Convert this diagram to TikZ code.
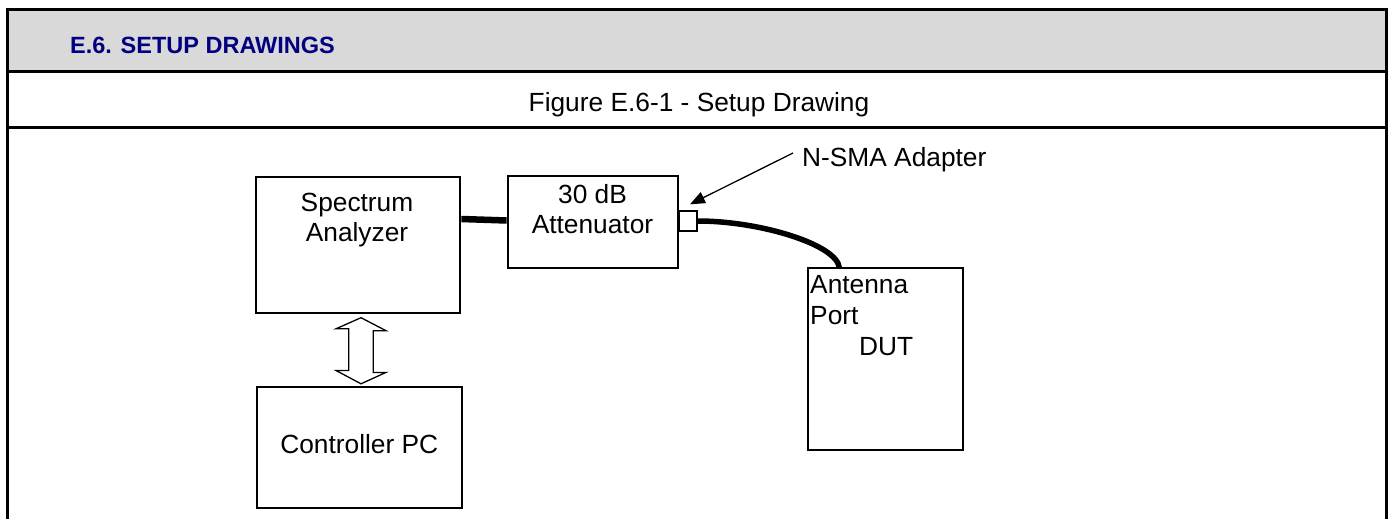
\documentclass[tikz,border=0pt]{standalone}
\usepackage{fontspec}
\setmainfont{Liberation Sans}
\usetikzlibrary{arrows.meta,calc}
\definecolor{hdrgray}{HTML}{D9D9D9}
\definecolor{hdrblue}{HTML}{000080}
\begin{document}
\begin{tikzpicture}[x=1pt,y=-1pt,
  box/.style={draw, line width=1.4pt, inner sep=0pt},
  txt/.style={inner sep=0pt, anchor=base, font=\fontsize{26.3}{30}\selectfont},
  frameline/.style={line width=3pt},
  cable/.style={line width=6.5pt},
  pointer/.style={line width=1.3pt, -{Triangle[length=15pt,width=12pt]}}]
\useasboundingbox (0,0) rectangle (1389,519);
% frame and header
\fill[hdrgray] (7.5,9.5) rectangle (1386.5,71.5);
\draw[frameline] (7.5,519) -- (7.5,9.5) -- (1386.5,9.5) -- (1386.5,519);
\draw[frameline] (6,71.5) -- (1388,71.5);
\draw[frameline] (6,127.5) -- (1388,127.5);
\node[anchor=base west, inner sep=0pt, font=\fontsize{23.5}{28}\selectfont\bfseries, text=hdrblue] (hdr) at (70,53) {E.6. SETUP DRAWINGS};
\node[txt] (cap) at (699,111) {Figure E.6-1 - Setup Drawing};
% boxes
\node[box, minimum width=204pt, minimum height=136pt] (sa) at (358,245) {};
\node[txt] (sa1) at (357,211.7) {Spectrum};
\node[txt] (sa2) at (357,241.7) {Analyzer};
\node[box, minimum width=170pt, minimum height=92pt] (att) at (593,222) {};
\node[txt] (att1) at (592.5,203.3) {30 dB};
\node[txt] (att2) at (592.5,233.3) {Attenuator};
\node[box, minimum width=18pt, minimum height=20pt] (adp) at (688,221) {};
\node[box, minimum width=155pt, minimum height=182pt] (dut) at (885.5,359) {};
\node[txt, anchor=base west] (dut1) at (810,293) {Antenna};
\node[txt, anchor=base west] (dut2) at (810,324) {Port};
\node[txt, anchor=base west] (dut3) at (859,355) {DUT};
\node[box, minimum width=205pt, minimum height=121pt] (pc) at (359.5,447.5) {};
\node[txt] (pc1) at (359.3,453) {Controller PC};
\node[txt, anchor=base west] (nsma) at (802,166) {N-SMA Adapter};
% connectors
\draw[cable] ($(sa.east)+(0.7,-26)$) -- ($(att.west)+(-0.7,-1.5)$);
\draw[line width=5.5pt] (adp.east) .. controls +(63,0) and +(-2,-23) .. ($(dut.north west)+(32,0.5)$);
\draw[pointer] ($(nsma.base west)+(-9,-13)$) -- ($(adp.north)+(2,-6)$);
\coordinate (dt) at ($(sa.south)+(3,4)$);
\coordinate (db) at ($(pc.north)+(1.5,-2.5)$);
\draw[line width=1.3pt, line join=miter] (dt) -- ++(25,13) -- ++(-12.7,0) -- ++(0,41.7) -- ++(12.7,0) -- (db)
  -- ++(-25,-13.3) -- ++(12.7,0) -- ++(0,-41.7) -- ++(-12.7,0) -- cycle;
\end{tikzpicture}
\end{document}
